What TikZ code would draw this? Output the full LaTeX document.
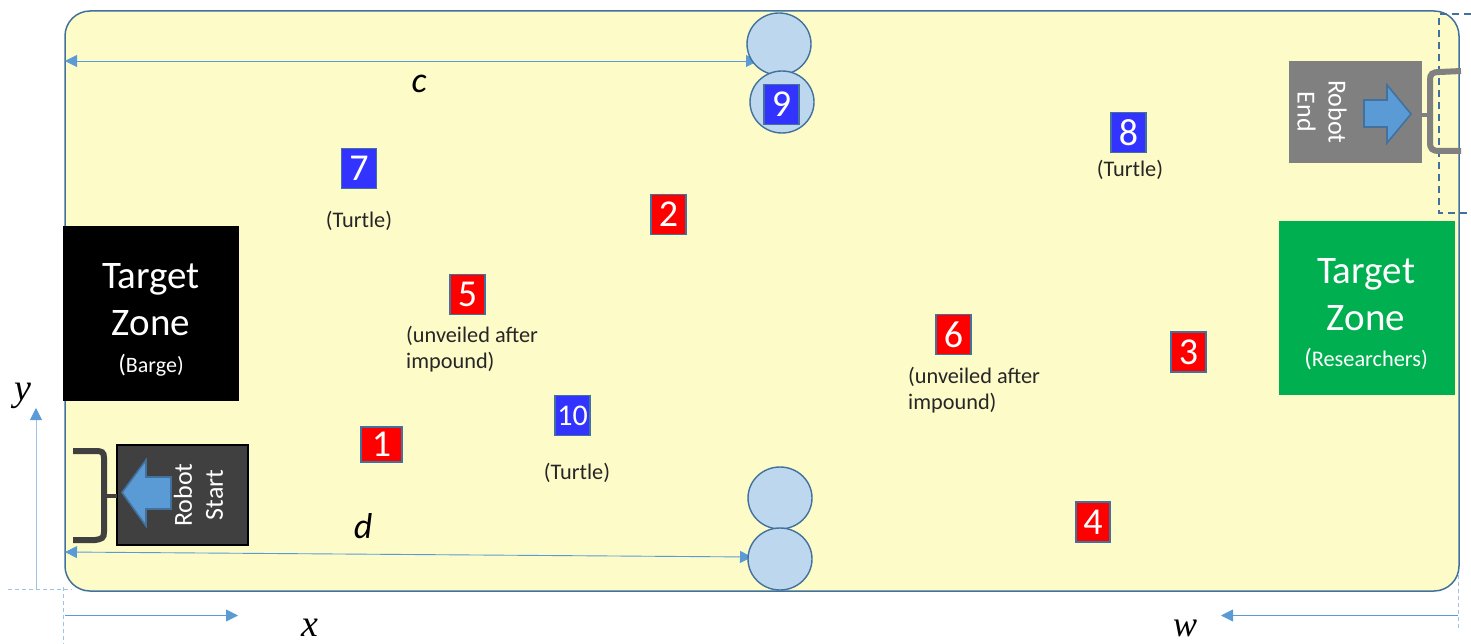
\documentclass[tikz,border=0pt]{standalone}
\usepackage{fontspec}
\setmainfont{Carlito}
\newfontfamily\axisfont{Liberation Serif}
\usetikzlibrary{arrows.meta}
\definecolor{fieldyellow}{HTML}{FDFBC8}
\definecolor{edgeblue}{HTML}{41719C}
\definecolor{dimblue}{HTML}{5B9BD5}
\definecolor{guideblue}{HTML}{9DC3E6}
\definecolor{circleblue}{HTML}{BDD7EE}
\definecolor{tagred}{HTML}{FF0000}
\definecolor{tagblue}{HTML}{3333FF}
\definecolor{zonegreen}{HTML}{00B050}
\tikzset{
  tagbox/.style={draw=edgeblue,line width=1.2pt,text=white,inner sep=0pt,font=\fontsize{38}{38}\selectfont},
  redtag/.style={tagbox,fill=tagred,minimum width=35,minimum height=40},
  bluetag/.style={tagbox,fill=tagblue,minimum width=35,minimum height=40},
  notetext/.style={inner sep=0pt,text=black!85,font=\fontsize{22.3}{26}\selectfont,align=left},
  zonetext/.style={inner sep=0pt,text=white,align=center,font=\fontsize{39}{47}\selectfont},
  robottext/.style={inner sep=0pt,text=white,align=center,font=\fontsize{26}{31}\selectfont},
  dimline/.style={draw=dimblue,line width=0.9pt},
  guideline/.style={draw=guideblue,line width=0.9pt,dash pattern=on 4pt off 3pt},
  post/.style={draw=edgeblue,fill=circleblue,line width=1.4pt},
  dirarrow/.style={draw=edgeblue,fill=dimblue,line width=1.6pt},
}
\begin{document}
\begin{tikzpicture}[x=1pt,y=1pt,yscale=-1,xscale=1]
\useasboundingbox (0,0) rectangle (1471,644);

%Shape: Rectangle [field]
\draw [draw=edgeblue,fill=fieldyellow,line width=1.5pt,rounded corners=25] (65,11) rectangle (1459,591);

%Dashed Lines
\draw [draw=edgeblue,line width=1.1pt,dash pattern=on 7pt off 5pt] (1471,14) -- (1439,14) -- (1439,213) -- (1471,213);
\draw [guideline] (8,589) -- (72,589);
\draw [guideline] (63,587) -- (63,644);
\draw [guideline] (1458,575) -- (1458,630);

%Straight Lines
\draw [dimline,{Triangle[length=12,width=12,color=dimblue]}-{Triangle[length=12,width=12,color=dimblue]}] (65,61) -- (758,61);
\draw [dimline,{Triangle[length=12,width=12,color=dimblue]}-{Triangle[length=12,width=12,color=dimblue]}] (65,552) -- (752,557);
\draw [dimline,-{Triangle[length=12,width=12,color=dimblue]}] (65,615.5) -- (238,615.5);
\draw [dimline,-{Triangle[length=12,width=12,color=dimblue]}] (1458,615.5) -- (1221,615.5);
\draw [dimline,draw=guideblue,-{Triangle[length=12,width=12,color=dimblue]}] (36,589) -- (36,408);

%Shape: Circle
\draw [post] (779,44) ellipse (32 and 31);
\draw [post] (782,102) ellipse (32 and 31);
\draw [post] (780,498) ellipse (32 and 31);
\draw [post] (780,559) ellipse (32 and 31);

%Shape: Rectangle [zones]
\fill [black] (63,226) rectangle (239,401);
\fill [zonegreen] (1279,221) rectangle (1455,395);
\fill [black!50] (1289,61) rectangle (1422,163);
\draw [draw=black,fill=black!75,line width=1.2pt] (117,445) rectangle (248,545);

%Shape: Free Drawing [brackets]
\draw [draw=black!75,line width=6pt] (73,451) -- (95,451) .. controls (102,451) and (104,452) .. (104,458) -- (104,532) .. controls (104,538) and (102,539) .. (95,540) -- (73,540);
\draw [draw=black!75,line width=4pt] (104,495.5) -- (117,495.5);
\draw [draw=black!50,line width=6pt] (1461,71) -- (1440,72) .. controls (1432,72) and (1430,74) .. (1430,80) -- (1430,142) .. controls (1430,149) and (1432,151) .. (1440,151) -- (1461,151);
\draw [draw=black!50,line width=4pt] (1422,115) -- (1430,115);

%Shape: Right Arrow
\draw [dirarrow] (122,492.5) -- (146,460) -- (146,477) -- (171,477) -- (171,509) -- (146,509) -- (146,526) -- cycle;
\draw [dirarrow] (1411,114) -- (1387,85) -- (1387,100) -- (1364,100) -- (1364,127) -- (1387,127) -- (1387,143) -- cycle;

% Text Node
\node [zonetext] (bargezone) at (151,319.5) {Target\\Zone\\[-10pt]{\fontsize{25}{24}\selectfont(}{\fontsize{22}{24}\selectfont Barge)}};
\node [zonetext] (researchzone) at (1366,314) {Target\\Zone\\[-11pt]{\fontsize{25}{24}\selectfont(}{\fontsize{22.3}{24}\selectfont Researchers)}};
\node [robottext,rotate=90] (robotstart) at (198.5,495) {Robot\\Start};
\node [robottext,rotate=-90] (robotend) at (1322,112) {Robot\\End};

% Tags
\node [redtag,minimum width=41,minimum height=35] (tagone) at (381.5,444.5) {1};
\node [redtag] (tagtwo) at (668.5,214.5) {2};
\node [redtag] (tagthree) at (1188.5,352) {3};
\node [redtag,minimum width=34] (tagfour) at (1093,522) {4};
\node [redtag] (tagfive) at (467.5,294.5) {5};
\node [redtag] (tagsix) at (953.5,334.5) {6};
\node [bluetag] (tagseven) at (359,168.5) {7};
\node [bluetag] (tageight) at (1128.5,132.5) {8};
\node [bluetag] (tagnine) at (781.5,104.5) {9};
\node [bluetag,font=\fontsize{30}{30}\selectfont] (tagten) at (572.5,415.5) {10};

% Text Node
\node [notetext] (noteseven) at (359,221) {(Turtle)};
\node [notetext] (noteeight) at (1130,170) {(Turtle)};
\node [notetext] (noteten) at (577,473) {(Turtle)};
\node [notetext,anchor=west] (notefive) at (406,349) {(unveiled after\\impound)};
\node [notetext,anchor=west] (notesix) at (908,390) {(unveiled after\\impound)};

\node [inner sep=0pt,font=\fontsize{36}{36}\selectfont\itshape] (labelc) at (419,84) {c};
\node [inner sep=0pt,font=\fontsize{36}{36}\selectfont\itshape] (labeld) at (363,526) {d};
\node [inner sep=0pt,font=\axisfont\fontsize{38}{38}\selectfont\itshape] (labelx) at (310,628) {x};
\node [inner sep=0pt,font=\axisfont\fontsize{38}{38}\selectfont\itshape] (labely) at (23,396) {y};
\node [inner sep=0pt,font=\axisfont\fontsize{36}{36}\selectfont\itshape] (labelw) at (1185,628) {w};

\end{tikzpicture}
\end{document}
